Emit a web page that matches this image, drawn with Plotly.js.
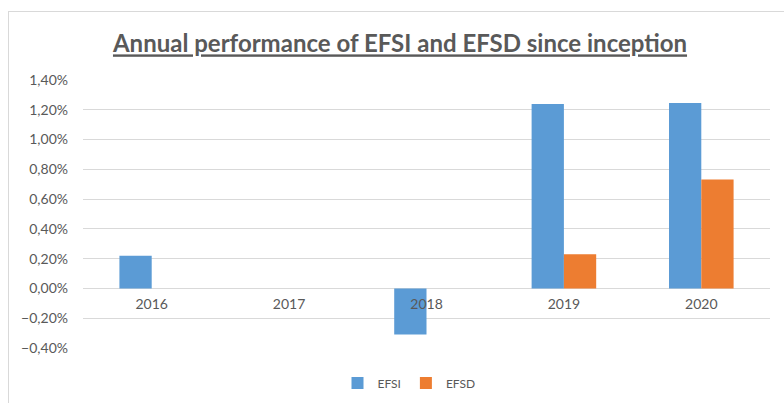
<!DOCTYPE html>
<html>
<head>
<meta charset="utf-8">
<script src="https://cdn.plot.ly/plotly-3.0.1.min.js"></script>
<style>
  html, body { margin: 0; padding: 0; background: #ffffff; overflow: hidden; }
  #frame { position: absolute; left: 8px; top: 11px; width: 820px; height: 440px; border: 1px solid #d9d9d9; box-sizing: border-box; }
  #chart { position: absolute; left: 0; top: 0; width: 784px; height: 403px; }
</style>
</head>
<body>
<div id="frame"></div>
<div id="chart"></div>
<script>
const years = ["2016", "2017", "2018", "2019", "2020"];
const efsi = [0.0022, null, -0.0031, 0.01238, 0.01245];
const efsd = [null, null, null, 0.0023, 0.00732];
const yTicks = [-0.004, -0.002, 0, 0.002, 0.004, 0.006, 0.008, 0.010, 0.012, 0.014];

const font = "Lato, 'Open Sans', sans-serif";
const gray = "#595959";

const traces = [
  { type: "bar", name: "EFSI", x: years, y: efsi, marker: { color: "#5B9BD5" } },
  { type: "bar", name: "EFSD", x: years, y: efsd, marker: { color: "#ED7D31" } }
];

const yMin = -0.004, yMax = 0.014;

const layout = {
  width: 784, height: 403,
  margin: { l: 83, r: 14, t: 80, b: 55, autoexpand: false },
  paper_bgcolor: "rgba(0,0,0,0)",
  plot_bgcolor: "rgba(0,0,0,0)",
  separators: ",.",
  barmode: "group",
  bargap: 0.53,
  bargroupgap: 0,
  font: { family: font, color: gray, size: 14 },
  title: {
    text: "<b><u>Annual performance of EFSI and EFSD since inception</u></b>",
    font: { family: font, size: 24, color: gray },
    x: 400 / 784, xanchor: "center", xref: "container",
    y: 1 - 44 / 403, yanchor: "middle", yref: "container"
  },
  xaxis: {
    type: "category",
    anchor: "free",
    position: (0 - yMin) / (yMax - yMin),
    showgrid: false, zeroline: false, showline: false,
    ticks: "", ticklabelstandoff: 6,
    tickfont: { family: font, size: 14, color: gray }
  },
  yaxis: {
    range: [yMin, yMax],
    tickvals: yTicks,
    tickformat: ".2%",
    showgrid: true, gridcolor: "#d9d9d9", gridwidth: 1,
    zeroline: true, zerolinecolor: "#d9d9d9", zerolinewidth: 1,
    showline: false, ticks: "", ticklabelstandoff: 14,
    tickfont: { family: font, size: 14, color: gray }
  },
  showlegend: true,
  legend: {
    orientation: "h", xref: "container", yref: "container",
    x: 409 / 784, xanchor: "center", y: 20 / 403, yanchor: "middle",
    font: { family: font, size: 12, color: gray },
    itemwidth: 30, traceorder: "normal"
  }
};

Plotly.newPlot("chart", traces, layout, { displayModeBar: false, staticPlot: true });
</script>
</body>
</html>
